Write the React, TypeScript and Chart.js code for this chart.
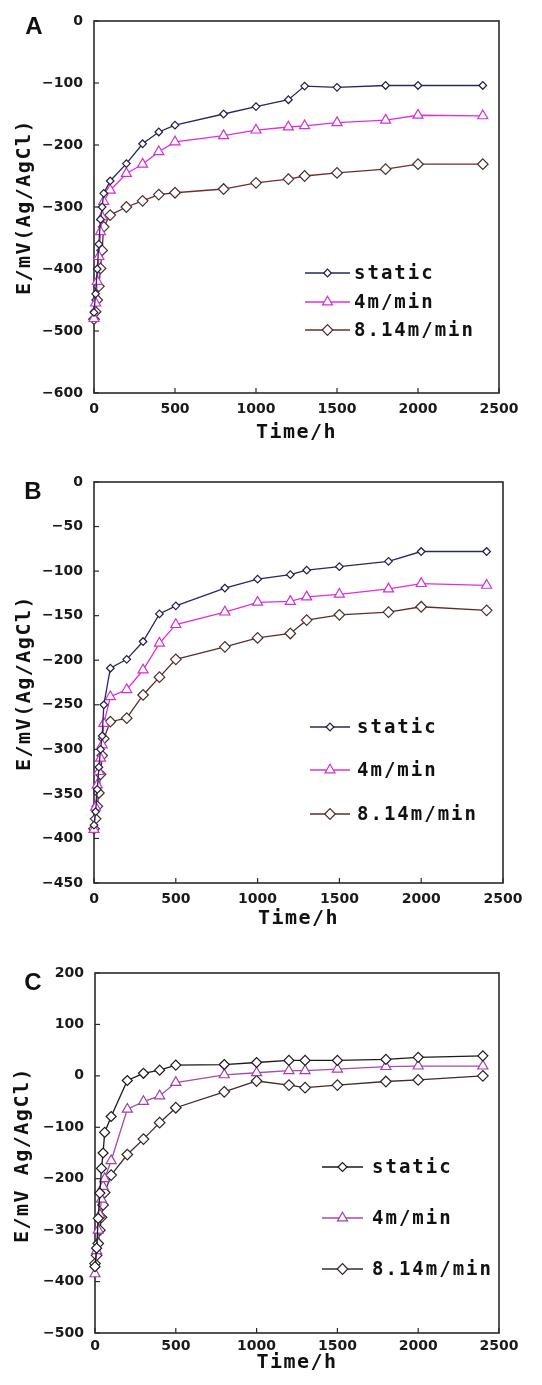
import React, { useEffect, useRef } from 'react';
import { Chart, registerables } from 'chart.js';

Chart.register(...registerables);

// ---------- data ----------
const TIMES = [0, 10, 20, 30, 40, 50, 60, 100, 200, 300, 400, 500, 800, 1000, 1200, 1300, 1500, 1800, 2000, 2400];
const SERIES_LABELS = ['static', '4m/min', '8.14m/min'];
const X_TICKS = [0, 500, 1000, 1500, 2000, 2500];

const A_STATIC = [-470, -440, -400, -360, -320, -300, -278, -258, -230, -198, -179, -168, -150, -138, -127, -105, -107, -104, -104, -104];
const A_4M = [-480, -455, -420, -380, -340, -316, -291, -273, -246, -231, -211, -195, -185, -176, -171, -169, -164, -160, -152, -153];
const A_814 = [-481, -469, -450, -428, -399, -370, -332, -313, -300, -290, -280, -277, -271, -261, -255, -250, -245, -239, -231, -231];
const A_Y_TICKS = [0, -100, -200, -300, -400, -500, -600];

const B_STATIC = [-385, -370, -345, -320, -300, -285, -250, -209, -199, -179, -148, -139, -119, -109, -104, -99, -95, -89, -78, -78];
const B_4M = [-390, -365, -340, -325, -310, -295, -271, -241, -233, -211, -181, -160, -146, -135, -134, -129, -126, -120, -114, -116];
const B_814 = [-389, -378, -364, -349, -328, -307, -288, -269, -265, -239, -219, -199, -185, -175, -170, -155, -149, -146, -140, -144];
const B_Y_TICKS = [0, -50, -100, -150, -200, -250, -300, -350, -400, -450];

const C_STATIC = [-371, -335, -277, -228, -180, -150, -110, -79, -9, 5, 11, 21, 22, 26, 30, 30, 30, 32, 36, 39];
const C_4M = [-385, -340, -300, -270, -240, -215, -200, -165, -65, -50, -39, -13, 2, 6, 10, 10, 13, 18, 19, 19];
const C_814 = [-365, -349, -326, -300, -275, -251, -227, -193, -153, -123, -91, -62, -31, -10, -18, -23, -18, -11, -8, 0];
const C_Y_TICKS = [200, 100, 0, -100, -200, -300, -400, -500];

// ---------- layout / style ----------
const W = 542;
const PANELS = [
  {
    letter: 'A', top: 0, height: 460,
    area: { left: 94, top: 21, right: 499, bottom: 393 },
    yTicks: A_Y_TICKS, series: [A_STATIC, A_4M, A_814],
    colors: ['#26285e', '#e02ee0', '#6e2c2c'],
    pointColors: ['#202040', '#d030d0', '#4a3028'],
    staticR: 3.8, xPad: 8,
    yTitle: 'E/mV(Ag/AgCl)', yTitleX: 25, yTitleY: 207, xTitleY: 433,
    legend: { x1: 305, x2: 350, tx: 354, rows: [273, 302, 330] },
    letterPos: [34, 27],
  },
  {
    letter: 'B', top: 460, height: 475,
    area: { left: 94, top: 22, right: 503, bottom: 423 },
    yTicks: B_Y_TICKS, series: [B_STATIC, B_4M, B_814],
    colors: ['#26285e', '#e02ee0', '#5e2c2c'],
    pointColors: ['#202040', '#d030d0', '#4a3028'],
    staticR: 3.8, xPad: 8,
    yTitle: 'E/mV(Ag/AgCl)', yTitleX: 25, yTitleY: 223, xTitleY: 459,
    legend: { x1: 310, x2: 350, tx: 357, rows: [267, 310, 354] },
    letterPos: [33, 32],
  },
  {
    letter: 'C', top: 920, height: 465,
    area: { left: 95, top: 53, right: 499, bottom: 413 },
    yTicks: C_Y_TICKS, series: [C_STATIC, C_4M, C_814],
    colors: ['#1a1a1a', '#a848b0', '#3e2a2a'],
    pointColors: ['#1a1a1a', '#a040a8', '#2e2626'],
    staticR: 5, xPad: 5,
    yTitle: 'E/mV Ag/AgCl)', yTitleX: 23, yTitleY: 235, xTitleY: 443,
    legend: { x1: 322, x2: 363, tx: 372, rows: [247, 298, 349] },
    letterPos: [33, 63],
  },
];

const MONO = '"DejaVu Sans Mono", "Liberation Mono", monospace';

function drawMarker(ctx: CanvasRenderingContext2D, style: string, x: number, y: number, r: number, stroke: string) {
  ctx.beginPath();
  if (style === 'triangle') {
    ctx.moveTo(x, y - r);
    ctx.lineTo(x + r * 0.866, y + r * 0.5);
    ctx.lineTo(x - r * 0.866, y + r * 0.5);
    ctx.closePath();
  } else {
    ctx.moveTo(x - r, y);
    ctx.lineTo(x, y - r);
    ctx.lineTo(x + r, y);
    ctx.lineTo(x, y + r);
    ctx.closePath();
  }
  ctx.fillStyle = '#fff';
  ctx.fill();
  ctx.lineWidth = 1.2;
  ctx.strokeStyle = stroke;
  ctx.stroke();
}

function Panel({ p }: { p: any }) {
  const ref = useRef<HTMLCanvasElement | null>(null);
  useEffect(() => {
    const canvas = ref.current;
    if (!canvas) return;
    const styles = ['rectRot', 'triangle', 'rectRot'];
    const radii = [p.staticR, 5.8, 5.3];
    const datasets = p.series.map((vals: number[], i: number) => ({
      label: SERIES_LABELS[i],
      data: TIMES.map((t, k) => ({ x: t, y: vals[k] })),
      borderColor: p.colors[i],
      backgroundColor: '#ffffff',
      borderWidth: 1.3,
      pointStyle: styles[i],
      pointRadius: radii[i],
      pointBorderColor: p.pointColors[i],
      pointBackgroundColor: '#ffffff',
      pointBorderWidth: 1.2,
      tension: 0,
      clip: false,
    }));

    const decor = {
      id: 'decor' + p.letter,
      beforeDatasetsDraw(chart: any) {
        const ctx = chart.ctx as CanvasRenderingContext2D;
        const ca = chart.chartArea;
        ctx.save();
        ctx.strokeStyle = '#2a2a2a';
        ctx.lineWidth = 1.6;
        ctx.strokeRect(ca.left, ca.top, ca.right - ca.left, ca.bottom - ca.top);
        ctx.lineWidth = 1.2;
        const xs = chart.scales.x;
        const ys = chart.scales.y;
        X_TICKS.forEach((v) => {
          const px = xs.getPixelForValue(v);
          ctx.beginPath();
          ctx.moveTo(px, ca.bottom);
          ctx.lineTo(px, ca.bottom - 5);
          ctx.stroke();
        });
        p.yTicks.forEach((v: number) => {
          const py = ys.getPixelForValue(v);
          ctx.beginPath();
          ctx.moveTo(ca.left, py);
          ctx.lineTo(ca.left + 5, py);
          ctx.stroke();
        });
        ctx.restore();
      },
      afterDraw(chart: any) {
        const ctx = chart.ctx as any;
        const ca = chart.chartArea;
        ctx.save();
        ctx.fillStyle = '#111';
        // panel letter
        ctx.font = 'bold 24px "Liberation Sans", Arial, sans-serif';
        ctx.textAlign = 'center';
        ctx.textBaseline = 'middle';
        ctx.fillText(p.letter, p.letterPos[0], p.letterPos[1]);
        // x title
        ctx.font = 'bold 20px ' + MONO;
        ctx.letterSpacing = '1.5px';
        ctx.fillText('Time/h', (ca.left + ca.right) / 2, p.xTitleY);
        // y title
        ctx.save();
        ctx.translate(p.yTitleX, p.yTitleY);
        ctx.rotate(-Math.PI / 2);
        ctx.fillText(p.yTitle, 0, 0);
        ctx.restore();
        // legend
        const lg = p.legend;
        ctx.font = 'bold 19px ' + MONO;
        ctx.letterSpacing = '2px';
        ctx.textAlign = 'left';
        SERIES_LABELS.forEach((lab, i) => {
          const y = lg.rows[i];
          ctx.strokeStyle = p.colors[i];
          ctx.lineWidth = 1.4;
          ctx.beginPath();
          ctx.moveTo(lg.x1, y);
          ctx.lineTo(lg.x2, y);
          ctx.stroke();
          drawMarker(ctx, styles[i], (lg.x1 + lg.x2) / 2, y, i === 0 ? Math.min(p.staticR, 4.5) : radii[i], p.pointColors[i]);
          ctx.fillStyle = '#111';
          ctx.fillText(lab, lg.tx, y + 1);
        });
        ctx.letterSpacing = '0px';
        ctx.restore();
      },
    };

    const tickFont = { family: '"DejaVu Sans", sans-serif', weight: 'bold' as const, size: 14 };
    const chart = new Chart(canvas, {
      type: 'line',
      data: { datasets },
      options: {
        animation: false,
        responsive: false,
        devicePixelRatio: 1,
        events: [],
        layout: { padding: { top: p.area.top, right: W - p.area.right, left: 0, bottom: 0 } },
        plugins: { legend: { display: false }, tooltip: { enabled: false } },
        scales: {
          x: {
            type: 'linear',
            min: 0,
            max: 2500,
            grid: { display: false, drawTicks: false },
            border: { display: false },
            afterBuildTicks: (s: any) => { s.ticks = X_TICKS.map((v) => ({ value: v })); },
            afterFit: (s: any) => { s.height = p.height - p.area.bottom; },
            ticks: { font: tickFont, color: '#1a1a1a', padding: p.xPad, maxRotation: 0, callback: (v: any) => String(v) },
          },
          y: {
            type: 'linear',
            min: Math.min(...p.yTicks),
            max: Math.max(...p.yTicks),
            grid: { display: false, drawTicks: false },
            border: { display: false },
            afterBuildTicks: (s: any) => { s.ticks = p.yTicks.map((v: number) => ({ value: v })); },
            afterFit: (s: any) => { s.width = p.area.left; },
            ticks: {
              font: tickFont, color: '#1a1a1a', padding: 11,
              callback: (v: any) => (v < 0 ? '\u2212' + Math.abs(v) : String(v)),
            },
          },
        },
      },
      plugins: [decor],
    });
    return () => chart.destroy();
  }, [p]);
  return (
    <canvas
      ref={ref}
      width={W}
      height={p.height}
      style={{ position: 'absolute', left: 0, top: p.top, width: W, height: p.height }}
    />
  );
}

export default function App() {
  return (
    <div style={{ position: 'absolute', left: 0, top: 0, width: W, height: 1385, background: '#fff', overflow: 'hidden' }}>
      {PANELS.map((p) => (
        <Panel key={p.letter} p={p} />
      ))}
    </div>
  );
}
